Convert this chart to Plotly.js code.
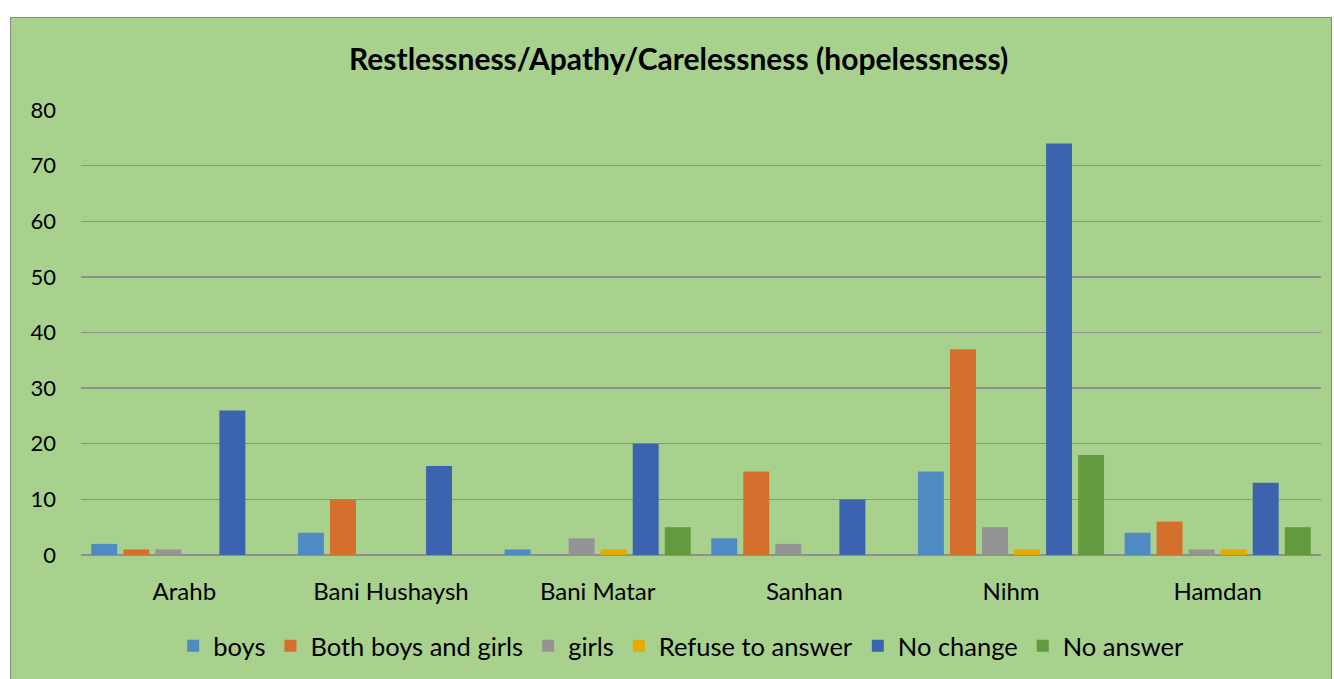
<!DOCTYPE html>
<html><head><meta charset="utf-8">
<script src="https://cdn.plot.ly/plotly-3.0.1.min.js"></script>
<style>
html,body{margin:0;padding:0;background:#fff;width:1334px;height:679px;overflow:hidden;}
#box{position:absolute;left:10px;top:17px;width:1322px;height:664px;background:#a9d18e;border:1px solid #8a8a8a;box-sizing:border-box;}
#chart{position:absolute;left:0;top:0;width:1322px;height:664px;}
</style></head><body>
<div id="box"><div id="chart"></div></div>
<script>
const categories = ["Arahb","Bani Hushaysh","Bani Matar","Sanhan","Nihm","Hamdan"];
const seriesNames = ["boys","Both boys and girls","girls","Refuse to answer","No change","No answer"];
const boys = [2,4,1,3,15,4];
const bothBoysGirls = [1,10,0,15,37,6];
const girls = [1,0,3,2,5,1];
const refuseToAnswer = [0,0,1,0,1,1];
const noChange = [26,16,20,10,74,13];
const noAnswer = [0,0,5,0,18,5];
const colors = ["#4f8bc2","#d56f2d","#949494","#e3aa00","#3c63ae","#629a3d"];
const values = [boys,bothBoysGirls,girls,refuseToAnswer,noChange,noAnswer];
const font = "Lato, 'Open Sans', sans-serif";
const data = values.map((v,i)=>({type:'bar',name:seriesNames[i],x:categories,y:v,marker:{color:colors[i]},hoverinfo:'x+y+name'}));
const layout = {
  width:1322, height:664,
  paper_bgcolor:'rgba(0,0,0,0)', plot_bgcolor:'rgba(0,0,0,0)',
  margin:{l:70,r:12,t:92,b:121},
  barmode:'group', bargap:0.07, bargroupgap:0.19,
  title:{text:'<b>Restlessness/Apathy/Carelessness (hopelessness)</b>',font:{family:font,size:30,color:'#000'},x:0.505,xanchor:'center',y:0.938,yanchor:'middle'},
  font:{family:font,color:'#000'},
  xaxis:{tickfont:{size:24,color:'#000'},showline:false,ticks:'',showgrid:false,zeroline:false,ticklabelstandoff:20},
  yaxis:{range:[0,80],dtick:10,tickfont:{size:22,color:'#000'},showgrid:true,gridcolor:'#8f8f8f',gridwidth:1.3,zeroline:true,zerolinecolor:'#8f8f8f',zerolinewidth:1.6,ticks:'',ticklabelstandoff:24},
  legend:{orientation:'h',x:0.484,xanchor:'center',y:-0.205,yanchor:'middle',font:{size:25.5,color:'#000'},itemwidth:30,traceorder:'normal'},
  showlegend:true
};
Plotly.newPlot('chart',data,layout,{displayModeBar:false,staticPlot:true});
</script>
</body></html>
